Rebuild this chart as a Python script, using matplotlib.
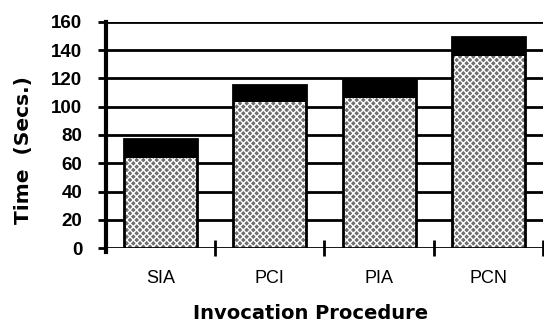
import matplotlib.pyplot as plt
import numpy as np

plt.rcParams['font.family'] = ['Liberation Sans', 'DejaVu Sans']
plt.rcParams['hatch.linewidth'] = 1.0

procs = ['SIA', 'PCI', 'PIA', 'PCN']
base_time = [64, 103, 106, 136]
overhead = [13, 12, 13, 13]
yticks = [0, 20, 40, 60, 80, 100, 120, 140, 160]

fig = plt.figure(figsize=(5.44, 3.26), dpi=100)
ax = fig.add_axes([0.195, 0.239, 0.803, 0.694])

x = np.arange(len(procs))
w = 0.67

# grid lines first, bars on top
for v in yticks:
    ax.axhline(v, color='black', lw=2, zorder=1)

# stippled base part: hatch drawn in white over gray, outline drawn separately
ax.bar(x, base_time, w, color='#6e6e6e', edgecolor='white', hatch='xxxxx',
       linewidth=0, zorder=2)
ax.bar(x, overhead, w, bottom=base_time, color='black', linewidth=0, zorder=2)
tot = [b + o for b, o in zip(base_time, overhead)]
ax.bar(x, tot, w, fill=False, edgecolor='black', linewidth=2, zorder=3)

ax.set_xlim(-0.5, 3.5)
ax.set_ylim(0, 160)
ax.set_yticks(yticks)
ax.set_yticklabels([str(v) for v in yticks], fontsize=13.5, fontweight='bold')
ax.tick_params(axis='y', length=6, width=2, pad=11, direction='out')

ax.set_xticks(x)
ax.set_xticklabels(procs, fontsize=13)
ax.set_xticks([0.5, 1.5, 2.5, 3.5], minor=True)
ax.tick_params(axis='x', which='major', length=0, pad=16)
ax.tick_params(axis='x', which='minor', length=12, width=2, direction='inout')

for s in ['top', 'right', 'bottom']:
    ax.spines[s].set_visible(False)
ax.spines['left'].set_linewidth(3)
ax.spines['left'].set_bounds(-3, 160)

ax.set_ylabel('Time  (Secs.)', fontsize=14.5, fontweight='bold',
              family='DejaVu Sans')
ax.yaxis.set_label_coords(-0.167, 0.434)
ax.set_xlabel('Invocation Procedure', fontsize=14, fontweight='bold',
              family='DejaVu Sans')
ax.xaxis.set_label_coords(0.467, -0.245)

fig.savefig('out.png', dpi=100)
